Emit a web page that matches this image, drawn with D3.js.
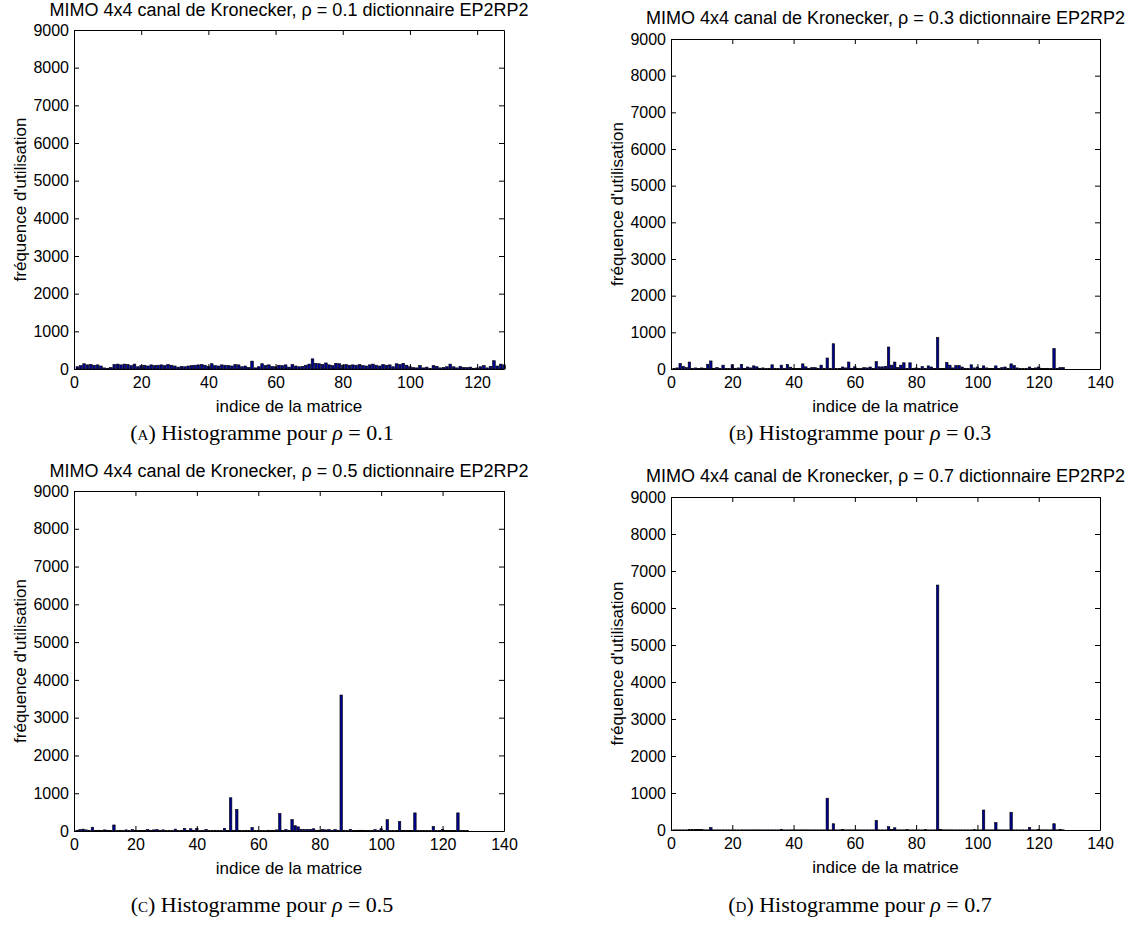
<!DOCTYPE html>
<html><head><meta charset="utf-8">
<script src="https://cdn.jsdelivr.net/npm/d3@7"></script>
<style>body{margin:0;background:#fff}svg{display:block}</style>
</head><body><svg id="c" width="1143" height="925"></svg>
<script>
const indices = d3.range(1, 129);
const valuesA = [60,90,140,110,120,100,110,80,30,20,
 40,120,130,110,130,120,90,130,60,90,
 100,80,110,90,100,110,90,120,100,80,
 50,70,60,80,90,100,110,120,100,70,
 140,90,80,110,100,90,80,120,110,60,
 80,40,210,30,60,140,90,110,70,60,
 100,90,110,50,120,80,60,70,100,130,
 270,150,140,120,160,110,90,150,140,100,
 120,100,110,100,120,90,80,110,130,100,
 80,120,100,110,60,140,120,150,100,60,
 40,30,90,30,50,20,90,70,30,40,
 60,130,60,30,70,40,40,50,20,30,
 60,90,30,70,220,80,130,110];
const valuesB = [20,30,150,75,40,190,20,30,10,30,
 20,130,220,20,40,20,105,20,10,115,
 20,30,125,20,55,30,85,60,20,30,
 10,20,115,20,10,105,20,125,50,20,
 10,20,140,60,20,40,40,20,105,20,
 300,20,690,10,20,55,30,190,20,60,
 20,10,40,30,55,20,200,60,60,75,
 600,105,190,40,105,170,20,170,20,30,
 10,65,20,85,55,20,860,10,20,180,
 105,30,95,95,55,20,10,115,30,55,
 20,85,30,10,20,85,20,40,55,20,
 140,95,30,10,10,20,55,10,30,55,
 10,10,20,10,560,20,40,40];
const valuesC = [20,40,50,30,20,100,10,20,10,30,
 20,10,160,10,20,10,30,10,40,20,
 10,10,20,40,10,30,40,20,30,10,
 10,10,50,10,20,70,10,60,20,70,
 10,10,40,10,10,20,10,10,70,10,
 880,20,570,10,10,20,10,90,10,20,
 10,10,20,10,10,30,460,10,40,20,
 300,140,110,45,40,45,40,60,20,20,
 40,30,40,20,40,20,3600,20,10,45,
 10,10,20,20,10,10,10,35,10,60,
 10,300,10,10,10,250,10,10,10,10,
 480,10,10,10,10,10,120,10,10,45,
 10,10,10,10,480,10,10,10];
const valuesD = [5,5,5,5,5,10,15,15,10,10,
 5,5,65,5,5,5,5,5,5,5,
 5,5,5,5,5,5,5,5,5,5,
 5,5,5,5,5,20,5,5,5,5,
 5,5,5,5,5,5,5,5,5,5,
 860,5,170,5,5,10,5,5,5,5,
 5,5,5,5,5,5,260,5,5,5,
 90,10,60,5,5,5,10,5,5,5,
 5,5,10,5,5,5,6620,10,5,5,
 5,5,5,5,5,5,5,5,10,5,
 5,540,5,5,5,200,5,5,5,5,
 480,5,5,5,5,5,65,5,5,15,
 5,5,5,5,170,5,20,5];
const yTicks = d3.range(0, 9001, 1000);
const xTicksA = [0, 20, 40, 60, 80, 100, 120];
const xTicksBCD = [0, 20, 40, 60, 80, 100, 120, 140];
const rhoLabels = ["0.1", "0.3", "0.5", "0.7"];
const captionLetters = ["a", "b", "c", "d"];

const panels = [
  {vals: valuesA, xmax: 128, xt: xTicksA, L: 74, R: 504, T: 30, B: 369, ty: 16, cap: {x: 262, y: 440}},
  {vals: valuesB, xmax: 140, xt: xTicksBCD, L: 671, R: 1100, T: 39, B: 369, ty: 24, cap: {x: 860, y: 440}},
  {vals: valuesC, xmax: 140, xt: xTicksBCD, L: 74, R: 504, T: 491, B: 831, ty: 477, cap: {x: 262, y: 912}},
  {vals: valuesD, xmax: 140, xt: xTicksBCD, L: 671, R: 1100, T: 497, B: 830, ty: 482, cap: {x: 860, y: 912}}
];

const svg = d3.select("#c");
const sans = "'Liberation Sans', Arial, Helvetica, sans-serif";
const serif = "'Liberation Serif', 'Times New Roman', serif";

panels.forEach((p, k) => {
  const x = d3.scaleLinear().domain([0, p.xmax]).range([p.L, p.R]);
  const y = d3.scaleLinear().domain([0, 9000]).range([p.B, p.T]);
  const g = svg.append("g");

  g.selectAll("rect.bar").data(indices).join("rect")
    .attr("class", "bar")
    .attr("x", i => x(i - 0.4))
    .attr("width", i => x(i + 0.4) - x(i - 0.4))
    .attr("y", (i, j) => y(p.vals[j]))
    .attr("height", (i, j) => y(0) - y(p.vals[j]))
    .attr("fill", "#00008f")
    .attr("stroke", "#000")
    .attr("stroke-width", 0.6);

  const styleAxis = sel => {
    sel.selectAll("path.domain").attr("stroke", "#000").attr("stroke-width", 1);
    sel.selectAll(".tick line").attr("stroke", "#000");
    sel.selectAll("text").attr("font-family", sans).attr("font-size", 16).attr("fill", "#000");
  };

  g.append("g").attr("transform", `translate(0,${p.B})`)
    .call(d3.axisBottom(x).tickValues(p.xt).tickSizeInner(-5).tickSizeOuter(0).tickPadding(8))
    .call(styleAxis);
  g.append("g").attr("transform", `translate(0,${p.T})`)
    .call(d3.axisTop(x).tickValues(p.xt).tickSizeInner(-5).tickSizeOuter(0).tickFormat(""))
    .call(styleAxis);
  g.append("g").attr("transform", `translate(${p.L},0)`)
    .call(d3.axisLeft(y).tickValues(yTicks).tickSizeInner(-5).tickSizeOuter(0).tickPadding(5).tickFormat(d3.format("d")))
    .call(styleAxis);
  g.append("g").attr("transform", `translate(${p.R},0)`)
    .call(d3.axisRight(y).tickValues(yTicks).tickSizeInner(-5).tickSizeOuter(0).tickFormat(""))
    .call(styleAxis);

  const cx = (p.L + p.R) / 2;
  g.append("text").attr("x", cx).attr("y", p.ty)
    .attr("text-anchor", "middle").attr("font-family", sans).attr("font-size", 18)
    .text(`MIMO 4x4 canal de Kronecker, ρ = ${rhoLabels[k]} dictionnaire EP2RP2`);
  g.append("text").attr("x", cx).attr("y", p.B + 43)
    .attr("text-anchor", "middle").attr("font-family", sans).attr("font-size", 17)
    .text("indice de la matrice");
  g.append("text")
    .attr("transform", `translate(${p.L - 48},${(p.T + p.B) / 2}) rotate(-90)`)
    .attr("text-anchor", "middle").attr("font-family", sans).attr("font-size", 17)
    .text("fréquence d'utilisation");

  const cap = g.append("text").attr("x", p.cap.x).attr("y", p.cap.y)
    .attr("text-anchor", "middle").attr("font-family", serif).attr("font-size", 22);
  cap.append("tspan").text("(");
  cap.append("tspan").attr("font-variant", "small-caps").text(captionLetters[k]);
  cap.append("tspan").text(") Histogramme pour ");
  cap.append("tspan").attr("font-style", "italic").text("ρ");
  cap.append("tspan").text(" = " + rhoLabels[k]);
});
</script></body></html>
